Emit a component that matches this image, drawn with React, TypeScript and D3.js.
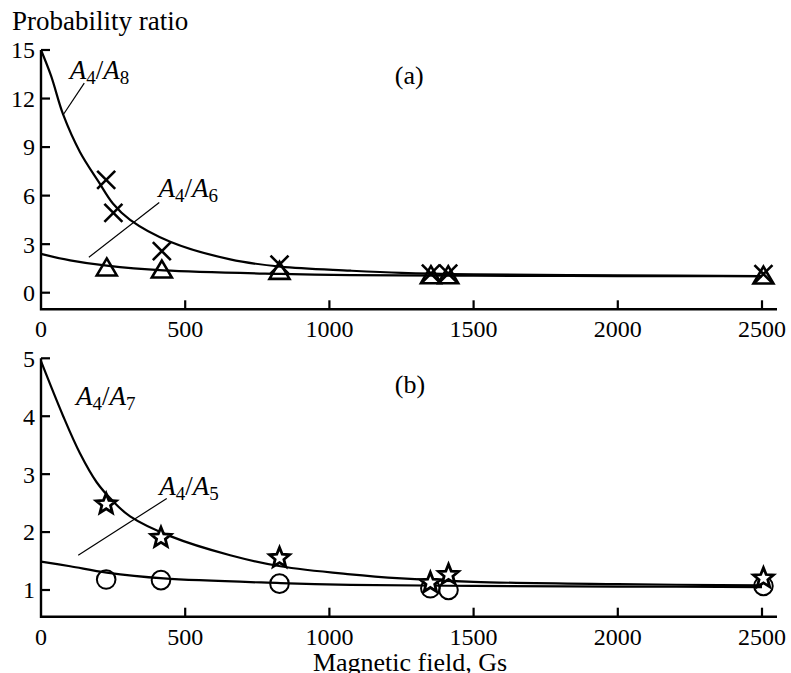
import * as d3 from 'd3';

/* ── axis ticks ── */
const xTicks = [0, 500, 1000, 1500, 2000, 2500];
const yTicksA = [0, 3, 6, 9, 12, 15];
const yTicksB = [1, 2, 3, 4, 5];

/* ── panel (a): A4/A8 crosses, A4/A6 triangles ── */
const crossX = [226, 251, 419, 827, 1352, 1412, 2505];
const crossY = [6.97, 4.93, 2.57, 1.74, 1.18, 1.18, 1.15];
const triX = [228, 419, 827, 1352, 1412, 2505];
const triY = [1.53, 1.4, 1.32, 1.05, 1.05, 1.03];
const fitA8X = [0, 35, 77, 135, 200, 250, 309, 448, 656, 830, 1073, 1250, 1500, 2000, 2500];
const fitA8Y = [15, 13.4, 11.0, 8.7, 6.85, 5.5, 4.5, 3.15, 2.06, 1.61, 1.36, 1.22, 1.13, 1.07, 1.03];
const fitA6X = [0, 101, 228, 425, 830, 1073, 1500, 2000, 2500];
const fitA6Y = [2.4, 2.0, 1.67, 1.38, 1.16, 1.09, 1.05, 1.03, 1.02];

/* ── panel (b): A4/A7 stars, A4/A5 circles ── */
const starX = [226, 416, 827, 1350, 1413, 2505];
const starY = [2.5, 1.92, 1.57, 1.14, 1.28, 1.22];
const circX = [226, 416, 827, 1350, 1413, 2505];
const circY = [1.18, 1.17, 1.11, 1.03, 1.0, 1.07];
const fitA7X = [0, 77, 135, 193, 250, 309, 448, 656, 830, 1073, 1250, 1500, 2000, 2500];
const fitA7Y = [4.95, 4.0, 3.36, 2.86, 2.53, 2.27, 1.93, 1.6, 1.41, 1.27, 1.2, 1.14, 1.1, 1.08];
const fitA5X = [0, 101, 228, 425, 830, 1073, 1500, 2000, 2500];
const fitA5Y = [1.49, 1.41, 1.3, 1.2, 1.12, 1.09, 1.07, 1.06, 1.05];

const W = 791, H = 673;
const FONT = "'Liberation Serif', 'Times New Roman', serif";

const x = d3.scaleLinear().domain([0, 2500]).range([41, 762]);
const X_END = 777;
const yA = d3.scaleLinear().domain([0, 15]).range([292.7, 50]);
const yB = d3.scaleLinear().domain([1, 5]).range([590, 358.3]);

function starPath(r: number, ri: number) {
  const pts: [number, number][] = [];
  for (let i = 0; i < 10; i++) {
    const a = -Math.PI / 2 + (i * Math.PI) / 5;
    const rr = i % 2 === 0 ? r : ri;
    pts.push([rr * Math.cos(a), rr * Math.sin(a)]);
  }
  return 'M' + pts.map(p => p.join(',')).join('L') + 'Z';
}

function Axes({ y, ticks, base }: { y: d3.ScaleLinear<number, number>; ticks: number[]; base: number }) {
  const top = y(ticks[ticks.length - 1]);
  return (
    <g>
      <path d={`M${x(0)},${top}V${base}H${X_END}`} fill="none" stroke="#000" strokeWidth={2.4} />
      {ticks.map(t => (
        <g key={'y' + t}>
          <line x1={x(0)} x2={x(0) + 9} y1={y(t)} y2={y(t)} stroke="#000" strokeWidth={2.2} />
          <text x={x(0) - 6} y={y(t)} dy="0.35em" textAnchor="end" fontSize={24}>{t}</text>
        </g>
      ))}
      {xTicks.map(t => (
        <g key={'x' + t}>
          {t > 0 && <line x1={x(t)} x2={x(t)} y1={base} y2={base - 9} stroke="#000" strokeWidth={2.2} />}
          <text x={x(t)} y={base + 28} textAnchor="middle" fontSize={24}>{t}</text>
        </g>
      ))}
    </g>
  );
}

function Fit({ xs, ys, y }: { xs: number[]; ys: number[]; y: d3.ScaleLinear<number, number> }) {
  const line = d3.line<number>()
    .x((_, i) => x(xs[i]))
    .y(d => y(d))
    .curve(d3.curveCatmullRom.alpha(0.5));
  return <path d={line(ys) || ''} fill="none" stroke="#000" strokeWidth={2.2} />;
}

function Ratio({ px, py, a, b }: { px: number; py: number; a: string; b: string }) {
  return (
    <text x={px} y={py} fontSize={27}>
      <tspan fontStyle="italic">A</tspan>
      <tspan fontSize={19} dy={5}>{a}</tspan>
      <tspan dy={-5}>/</tspan>
      <tspan fontStyle="italic">A</tspan>
      <tspan fontSize={19} dy={5}>{b}</tspan>
    </text>
  );
}

function Leader({ x1, y1, x2, y2 }: { x1: number; y1: number; x2: number; y2: number }) {
  return <line x1={x1} y1={y1} x2={x2} y2={y2} stroke="#000" strokeWidth={1.2} />;
}

export default function App() {
  const star = starPath(10.5, 4.6);
  return (
    <svg width={W} height={H} fontFamily={FONT}
      style={{ position: 'absolute', left: 0, top: 0, background: '#fff' }}>
      <Axes y={yA} ticks={yTicksA} base={309.3} />
      <Axes y={yB} ticks={yTicksB} base={616.7} />

      <Fit xs={fitA8X} ys={fitA8Y} y={yA} />
      <Fit xs={fitA6X} ys={fitA6Y} y={yA} />
      <Fit xs={fitA7X} ys={fitA7Y} y={yB} />
      <Fit xs={fitA5X} ys={fitA5Y} y={yB} />

      {triX.map((v, i) => (
        <path key={'t' + i} d="M0,-9.5L10,7.5L-10,7.5Z" transform={`translate(${x(v)},${yA(triY[i])})`}
          fill="none" stroke="#000" strokeWidth={2.6} />
      ))}
      {crossX.map((v, i) => (
        <path key={'c' + i} d="M-9,-9L9,9M-9,9L9,-9" transform={`translate(${x(v)},${yA(crossY[i])})`}
          fill="none" stroke="#000" strokeWidth={2.6} />
      ))}
      {circX.map((v, i) => (
        <circle key={'o' + i} cx={x(v)} cy={yB(circY[i])} r={9.3} fill="none" stroke="#000" strokeWidth={2} />
      ))}
      {starX.map((v, i) => (
        <path key={'s' + i} d={star} transform={`translate(${x(v)},${yB(starY[i]) + 1})`}
          fill="#fff" stroke="#000" strokeWidth={2.8} />
      ))}

      <Ratio px={x(100)} py={yA(13.2)} a="4" b="8" />
      <Leader x1={x(150)} y1={yA(12.95)} x2={x(77)} y2={yA(11.0)} />
      <Ratio px={x(407)} py={yA(5.94)} a="4" b="6" />
      <Leader x1={x(410)} y1={yA(5.57)} x2={x(166)} y2={yA(2.19)} />
      <Ratio px={x(121)} py={yB(4.19)} a="4" b="7" />
      <Ratio px={x(410)} py={yB(2.64)} a="4" b="5" />
      <Leader x1={x(436)} y1={yB(2.58)} x2={x(129)} y2={yB(1.6)} />

      <text x={x(1227)} y={yA(12.9)} fontSize={26}>(a)</text>
      <text x={x(1227)} y={yB(4.4)} fontSize={26}>(b)</text>

      <text x={12} y={30} fontSize={27}>Probability ratio</text>
      <text x={410} y={671} textAnchor="middle" fontSize={26}>Magnetic field, Gs</text>
    </svg>
  );
}
